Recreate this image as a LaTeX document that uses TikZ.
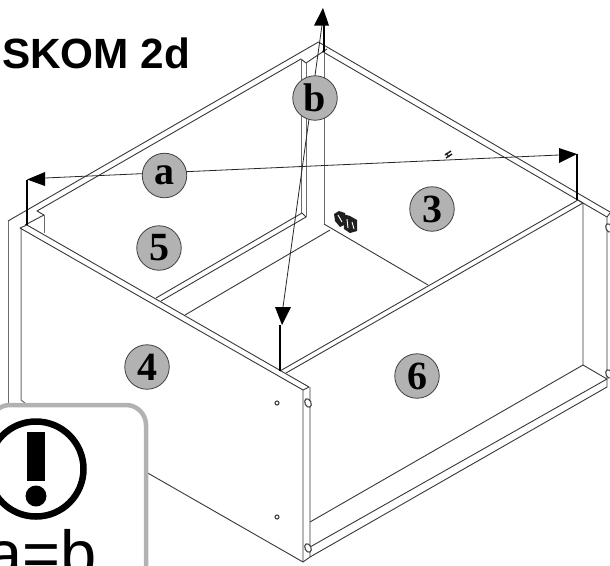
\documentclass[tikz,border=0pt]{standalone}
\usepackage{fontspec}
\setmainfont{Liberation Serif}
\newfontfamily\arialfont{Liberation Sans}
\tikzset{
  x=1pt,y=-1pt,
  edge/.style={draw=black!78,line width=0.9pt,line join=round},
  softedge/.style={draw=black!58,line width=1pt},
  post/.style={draw=black,line width=2.4pt},
  dimline/.style={draw=black!85,line width=0.8pt},
  head/.style={fill=black,draw=none},
  badge/.style={circle,draw=black!75,line width=0.8pt,fill=black!30,minimum size=44.5pt,inner sep=0pt,
     font=\fontsize{40}{40}\selectfont\bfseries,text=black},
  holemark/.style={draw=black!75,line width=1.1pt,fill=white}
}
\begin{document}
\begin{tikzpicture}
\useasboundingbox (0,0) rectangle (610,565);
\fill[white] (0,0) rectangle (610,565);
\begin{scope}
\clip (0,0) rectangle (610,565);
% named points
\coordinate (aL) at (45,178); \coordinate (aR) at (559,155);
\coordinate (aLt) at (27,179.5); \coordinate (aRt) at (577,154);
\coordinate (bT) at (322,25); \coordinate (bB) at (283,307);
\coordinate (bTt) at (323,8); \coordinate (bBt) at (282,325);
% back-top frame
\draw[edge] (8,221) -- (318.5,42) -- (610,212);
\draw[edge] (25,225) -- (44,215) -- (37,211) -- (301,59) -- (306,63) -- (327,49);
\draw[edge] (322,51) -- (325,53) -- (607,217) -- (610,213);
% back verticals
\draw[softedge] (8,221) -- (8,405);
\draw[softedge] (21,228) -- (21,400) -- (25,403);
\draw[softedge] (44,215) -- (44,233);
\draw[softedge] (301,59) -- (301,213);
\draw[softedge] (306,63) -- (306,217);
\draw[softedge] (324,53) -- (324,224);
% left panel 4
\draw[edge] (27,225) -- (309,387) -- (303,390) -- (20,228) -- (27,225);
\draw[edge] (303,390) -- (303,562) -- (146,472);
\draw[edge] (303,562) -- (310,557) -- (310,387);
% right panel 6
\draw[edge] (280,371) -- (578,200) -- (583,203) -- (286,373);
\draw[edge] (583,203) -- (583,365) -- (310,522);
\draw[edge] (583,365) -- (607,379) -- (310,547);
\draw[edge] (607,217) -- (607,387) -- (310,557);
% floor of the inner shelf
\draw[edge] (302,213) -- (156,298);
\draw[edge] (306,217) -- (161,301);
\draw[edge] (302,213) -- (306,217);
\draw[edge] (330,230) -- (185,315);
\draw[edge] (324,224) -- (428,285);
% fittings
\draw[holemark] (277,403) circle (2);
\draw[holemark] (277,517) circle (2);
\foreach \p in {(308,403),(308,548),(609,228),(609,374)}
  \draw[holemark,rotate around={25:\p}] \p ellipse (3 and 4.5);
% hardware
\fill[black!88] (334,214) -- (339,211) -- (345,213) -- (346,224) -- (340,227) -- (335,221) -- cycle;
\fill[black!88] (343,214) -- (350,216) -- (357,220) -- (357,231) -- (350,233) -- (344,229) -- cycle;
\draw[white,line width=0.9pt] (338,215) -- (342,222) (347,219) -- (348,228) (352,222) -- (354,229);
\draw[black!88,line width=1.4pt] (445,155) -- (451,151) (446,158) -- (452,154);
\draw[black!88,line width=1pt] (446,153) -- (449,157);
% dimensions
\draw[post] (aLt) -- (27,225);
\draw[post] (aRt) -- (577,200);
\draw[post] (bTt) ++(1,5) -- (324,52);
\draw[post] (280,325) -- (280,371);
\draw[dimline] (aL) -- (aR);
\draw[dimline] (bT) -- (bB);
\path[head] (aLt) -- (45,172) -- (45,186) -- cycle;
\path[head] (aRt) -- (559,148) -- (559,163) -- cycle;
\path[head] (bTt) -- (314,25.5) -- (329,25.5) -- cycle;
\path[head] (bBt) -- (275,307) -- (291,307) -- cycle;
% badges
\node[badge] (labA) at (164.5,175.5) {a};
\node[badge] (labB) at (315,98) {b};
\node[badge] (lab3) at (432,209) {3};
\node[badge] (lab4) at (147,367) {4};
\node[badge] (lab5) at (159,248) {5};
\node[badge] (lab6) at (417,376) {6};
% title
\node[anchor=base west,inner sep=0pt,font=\arialfont\bfseries\fontsize{42.3}{42.3}\selectfont] (title) at (2,68.5) {SKOM 2d};
% callout
\draw[draw=black!30,line width=4.5pt,fill=white,rounded corners=20pt] (-10,405) -- (146,405) -- (146,590) -- (-10,590) -- cycle;
\draw[black,line width=6.5pt] (36,469) circle (47.5);
\fill[black] (27,432) rectangle (45,481);
\fill[black] (36,496) circle (10.5);
\node[anchor=base west,inner sep=0pt,font=\arialfont\fontsize{65}{65}\selectfont] (eq) at (-14,576) {a=b};
\end{scope}
\end{tikzpicture}
\end{document}
